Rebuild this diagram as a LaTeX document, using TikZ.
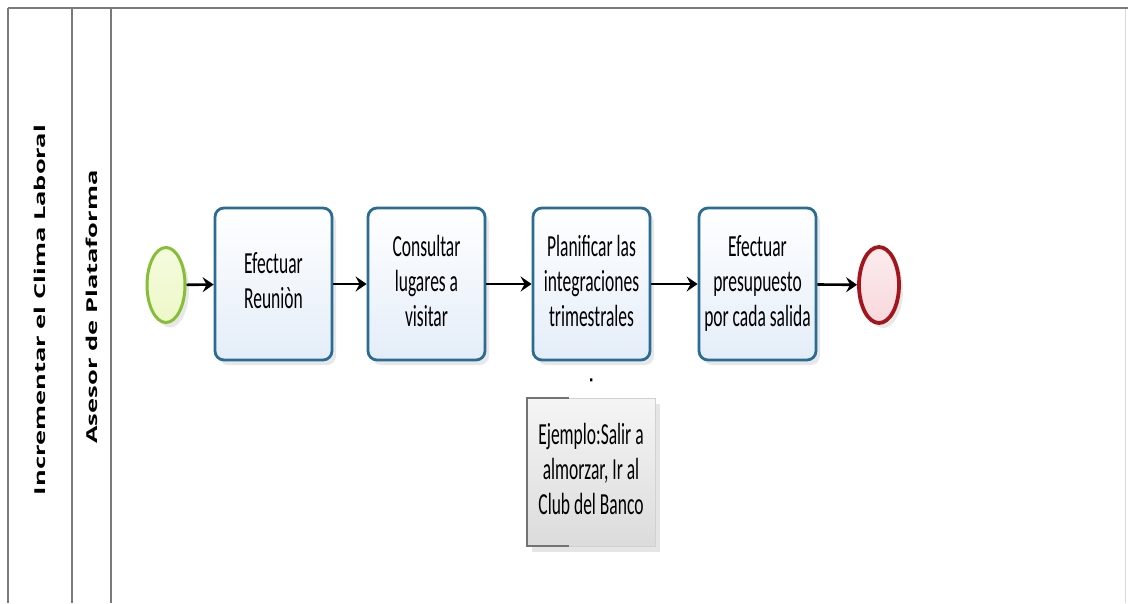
\documentclass[tikz,border=0pt]{standalone}
\usepackage{fontspec}
\setmainfont{Carlito}
\newfontfamily\lanefont{Open Sans}
\usetikzlibrary{arrows.meta,shadows,shapes.geometric}
\definecolor{taskline}{HTML}{2A6C94}
\definecolor{taskfill}{HTML}{E4EDF8}
\definecolor{startline}{HTML}{86BE37}
\definecolor{startfill}{HTML}{EEF8C8}
\definecolor{endline}{HTML}{A3151D}
\definecolor{endfill}{HTML}{F8D8DC}
\definecolor{poolgray}{HTML}{7A7A7A}
\newcommand{\vstr}[1]{\scalebox{1}[1.75]{\fontsize{17.5}{20}\selectfont\begin{tabular}{@{}c@{}}#1\end{tabular}}}
\newcommand{\lbl}[1]{\scalebox{1.7}[1]{\lanefont\bfseries\fontsize{15}{17}\selectfont #1}}
\tikzset{
  poolline/.style={draw=poolgray, line width=1.6pt},
  taskbox/.style={rectangle, rounded corners=9pt, draw=taskline, line width=2.8pt,
    top color=white, bottom color=taskfill, minimum width=117pt, minimum height=152pt,
    inner sep=0pt, drop shadow={shadow xshift=4pt, shadow yshift=-5pt, opacity=0.18, fill=gray}},
  startev/.style={ellipse, draw=startline, line width=3pt, top color=startfill!60!white,
    bottom color=startfill, minimum width=38pt, minimum height=75pt, inner sep=0pt,
    drop shadow={shadow xshift=4pt, shadow yshift=-5pt, opacity=0.18, fill=gray}},
  endev/.style={ellipse, draw=endline, line width=3.8pt, top color=endfill!50!white,
    bottom color=endfill, minimum width=40pt, minimum height=76pt, inner sep=0pt,
    drop shadow={shadow xshift=4pt, shadow yshift=-5pt, opacity=0.18, fill=gray}},
  flow/.style={draw=black, line width=2.6pt, -{Stealth[length=11pt,width=15pt,inset=4pt]}},
  assoc/.style={draw=black, line width=2.4pt, dash pattern={on 0pt off 17pt on 3pt off 60pt}},
  annot/.style={rectangle, draw=black!18, line width=0.6pt, top color=black!4, bottom color=black!14,
    minimum width=128pt, minimum height=148pt, inner sep=0pt,
    drop shadow={shadow xshift=5pt, shadow yshift=-6pt, opacity=0.2, fill=gray}},
  bracket/.style={draw=black!55, line width=2pt}
}
\begin{document}
\begin{tikzpicture}[x=1pt,y=-1pt]
\useasboundingbox[fill=white] (0,0) rectangle (1128,603);
% pool and lane
\draw[draw=black!15, line width=0.8pt] (1125,8) -- (1125,603);
\draw[poolline, line width=2.4pt] (8,8) -- (1128,8);
\draw[poolline] (8,8) -- (8,603);
\draw[poolline] (72,8) -- (72,603);
\draw[poolline] (111,8) -- (111,603);
\node[rotate=90] (pool) at (40,310) {\lbl{Incrementar el Clima Laboral}};
\node[rotate=90] (lane) at (92,307) {\lbl{Asesor de Plataforma}};
% events and tasks
\node[startev] (start) at (166,285) {};
\node[taskbox] (t1) at (273.5,284) {\vstr{Efectuar\\Reuniòn}};
\node[taskbox] (t2) at (426.5,284) {\vstr{Consultar\\lugares a\\visitar}};
\node[taskbox] (t3) at (591.5,284) {\vstr{Planificar las\\integraciones\\trimestrales}};
\node[taskbox] (t4) at (757.5,284) {\vstr{Efectuar\\presupuesto\\por cada salida}};
\node[endev] (end) at (879,285) {};
% annotation
\node[annot] (ann) at (591,472) {\vstr{Ejemplo:Salir a\\almorzar, Ir al\\Club del Banco}};
\draw[bracket] ([xshift=42pt]ann.north west) -- (ann.north west) -- (ann.south west) -- ([xshift=42pt]ann.south west);
% flows
\draw[flow] (start) -- (t1);
\draw[flow] (t1) -- (t2);
\draw[flow] (t2) -- (t3);
\draw[flow] (t3) -- (t4);
\draw[flow] (t4) -- (end);
\draw[assoc] (t3.south) -- (ann.north);
\end{tikzpicture}
\end{document}
